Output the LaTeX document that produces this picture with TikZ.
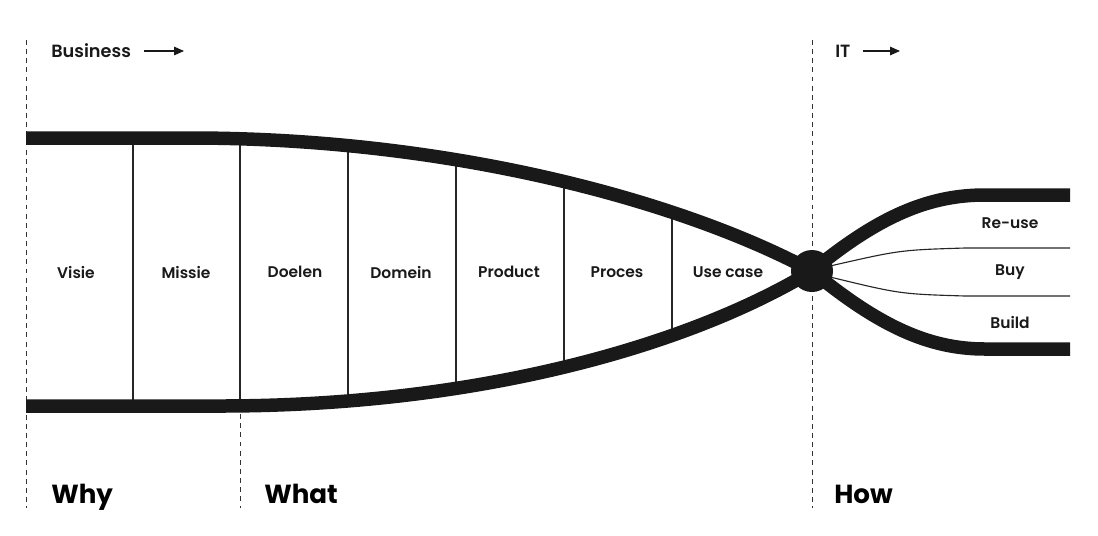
\documentclass[tikz,border=0pt]{standalone}
\usepackage{fontspec}
\setmainfont{Poppins}[UprightFont={* SemiBold},BoldFont={* Bold}]
\usetikzlibrary{arrows.meta}

\tikzset{
  band/.style={line width=9.6pt,black!90},
  divider/.style={line width=0.8pt,black!85},
  guide/.style={line width=0.7pt,black!80,dash pattern=on 3.5pt off 3pt},
  pointer/.style={line width=0.9pt,black!90,-{Triangle[length=7pt,width=6pt]}},
  label/.style={font=\fontsize{11pt}{13pt}\selectfont,text=black!90,inner sep=0pt},
  toplabel/.style={font=\fontsize{12.6pt}{14pt}\selectfont,text=black!90,inner sep=0pt,anchor=west},
  phase/.style={font=\bfseries\fontsize{18.6pt}{22pt}\selectfont,text=black,inner sep=0pt,anchor=base west},
  knot/.style={circle,fill=black!90,minimum size=1.05cm,inner sep=0pt}
}

\begin{document}
\begin{tikzpicture}[x=0.025cm,y=-0.025cm]
\useasboundingbox (0,0) rectangle (1098,535);

\draw[guide] (26,40) -- (26,508);
\draw[guide] (240,405) -- (240,508);
\draw[guide] (812,40) -- (812,508);

\begin{scope}
\clip (26,138) -- (190,138) .. controls (460,138) and (690,205) .. (812,271)
  .. controls (690,345) and (480,406) .. (220,406) -- (26,406) -- cycle;
\foreach \x in {133,240,348,456,564,672}
  \draw[divider] (\x,120) -- (\x,420);
\end{scope}

\draw[band] (26,138) -- (190,138) .. controls (460,138) and (690,205) .. (812,271);
\draw[band] (26,406) -- (220,406) .. controls (480,406) and (690,345) .. (812,271);
\draw[band] (812,271) .. controls (880,215) and (930,195) .. (985,195) -- (1070,195);
\draw[band] (812,271) .. controls (880,327) and (930,349) .. (985,349) -- (1070,349);
\draw[divider] (830,266) .. controls (900,250) .. (965,248) -- (1070,248);
\draw[divider] (830,277) .. controls (900,294) .. (965,296) -- (1070,296);

\node[knot] (knot) at (812,271) {};

\node[label] (visie) at (76,272) {Visie};
\node[label] (missie) at (186,272) {Missie};
\node[label] (doelen) at (295,272) {Doelen};
\node[label] (domein) at (401,272) {Domein};
\node[label] (product) at (509,272) {Product};
\node[label] (proces) at (617,272) {Proces};
\node[label] (usecase) at (728,272) {Use case};
\node[label] (reuse) at (1010,223) {Re-use};
\node[label] (buy) at (1010,272) {Buy};
\node[label] (build) at (1010,322) {Build};

\node[toplabel] (business) at (51,51) {Business};
\coordinate (businessend) at (184,51);
\draw[pointer] ([xshift=13*0.025cm]business.east) -- (businessend);
\node[toplabel] (it) at (835,51) {IT};
\coordinate (itend) at (900,51);
\draw[pointer] ([xshift=12*0.025cm]it.east) -- (itend);

\node[phase] (why) at (51,503) {Why};
\node[phase] (what) at (264,503) {What};
\node[phase] (how) at (834,503) {How};
\end{tikzpicture}
\end{document}
